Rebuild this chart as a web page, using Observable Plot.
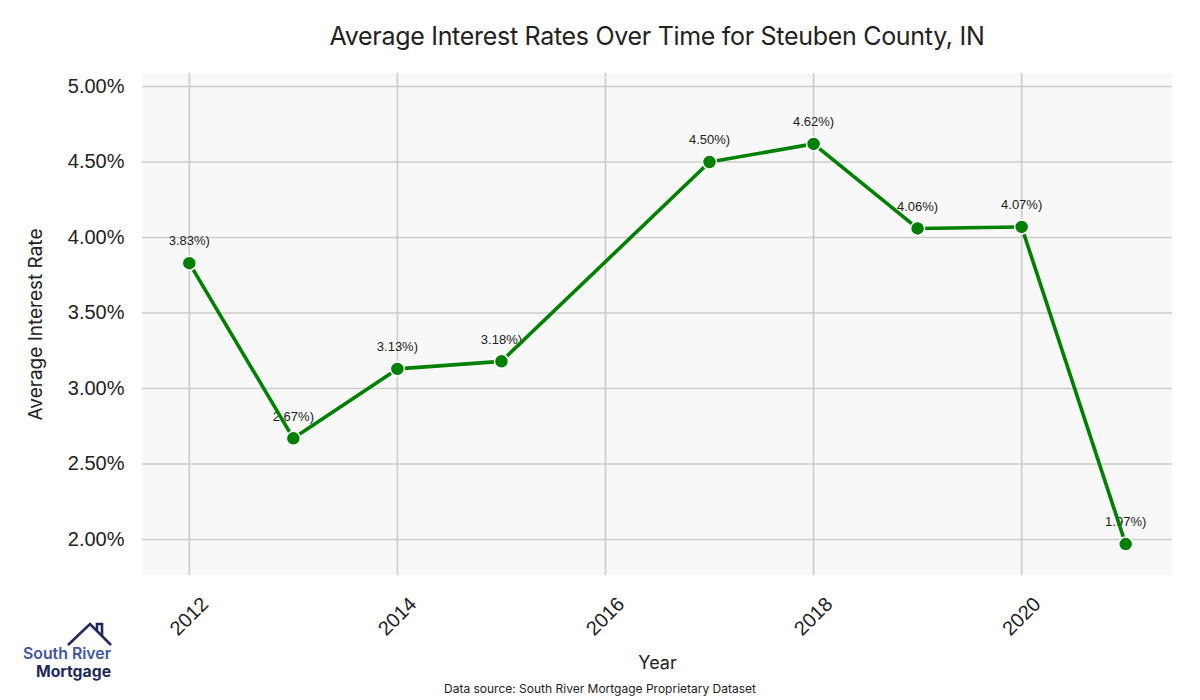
<!DOCTYPE html>
<html>
<head>
<meta charset="utf-8">
<script src="https://cdn.jsdelivr.net/npm/d3@7"></script>
<script src="https://cdn.jsdelivr.net/npm/@observablehq/plot@0.6"></script>
<style>
  body { margin: 0; background: #fff; }
  #wrap { position: relative; width: 1200px; height: 700px; overflow: hidden; }
  #title { position: absolute; left: 142px; width: 1030px; top: 21px; text-align: center;
    font-family: Inter, "Open Sans", sans-serif; font-size: 25px; color: #222; letter-spacing: -0.3px; }
  #caption { position: absolute; left: 0; width: 1200px; top: 681px; text-align: center;
    font-family: Inter, sans-serif; font-size: 12px; color: #222; }
  #logo { position: absolute; left: 0; top: 600px; }
  #chart { position: absolute; left: 0; top: 0; }
</style>
</head>
<body>
<div id="wrap">
  <div id="chart"></div>
  <div id="title">Average Interest Rates Over Time for Steuben County, IN</div>
  <div id="caption">Data source: South River Mortgage Proprietary Dataset</div>
  <svg id="logo" width="130" height="90" viewBox="0 600 130 90">
    <polyline points="68,645 90,624 111,645" fill="none" stroke="#1f2a5c" stroke-width="2.6"/>
    <polyline points="97,631 97,624 102,624 102,636" fill="none" stroke="#1f2a5c" stroke-width="2.6"/>
    <text x="111" y="659" text-anchor="end" font-family="Inter, sans-serif" font-weight="600" font-size="15.5" fill="#3f56a6" textLength="88" lengthAdjust="spacingAndGlyphs">South River</text>
    <text x="111" y="677" text-anchor="end" font-family="Inter, sans-serif" font-weight="700" font-size="15.5" fill="#1d2a5a" textLength="75" lengthAdjust="spacingAndGlyphs">Mortgage</text>
  </svg>
</div>
<script>
const years = [2012, 2013, 2014, 2015, 2017, 2018, 2019, 2020, 2021];
const rates = [3.83, 2.67, 3.13, 3.18, 4.50, 4.62, 4.06, 4.07, 1.97];
const yTicks = [2.0, 2.5, 3.0, 3.5, 4.0, 4.5, 5.0];
const xTicks = [2012, 2014, 2016, 2018, 2020];

const data = years.map((y, i) => ({ year: y, rate: rates[i] }));

const chart = Plot.plot({
  width: 1200,
  height: 700,
  marginLeft: 142,
  marginRight: 28,
  marginTop: 73,
  marginBottom: 125,
  style: { fontFamily: "'Liberation Sans', Arial, sans-serif", background: "transparent" },
  x: { domain: [2011.55, 2021.45], ticks: xTicks, label: null, axis: null },
  y: { domain: [1.762, 5.086], ticks: yTicks, label: null, axis: null },
  marks: [
    Plot.frame({ fill: "#f8f8f8", stroke: null }),
    Plot.gridX(xTicks, { stroke: "#cccccc", strokeOpacity: 1, strokeWidth: 1.6 }),
    Plot.gridY(yTicks, { stroke: "#cccccc", strokeOpacity: 1, strokeWidth: 1.6 }),
    Plot.axisY(yTicks, { tickSize: 0, tickPadding: 18, fontSize: 20, fill: "#222",
      tickFormat: d => d.toFixed(2) + "%", label: null }),
    Plot.text(xTicks, { x: d => d, frameAnchor: "bottom", dy: 41, rotate: -45,
      text: d => String(d), fontSize: 20, fill: "#222", textAnchor: "middle", lineAnchor: "middle" }),
    Plot.text(["Average Interest Rate"], { frameAnchor: "left", dx: -107, rotate: -90,
      text: d => d, fontSize: 19, fill: "#222", fontFamily: "Inter, sans-serif", textAnchor: "middle" }),
    Plot.text(["Year"], { frameAnchor: "bottom", dy: 93, text: d => d, fontSize: 18,
      fill: "#222", fontFamily: "Inter, sans-serif", textAnchor: "middle" }),
    Plot.text(data, { x: "year", y: "rate", text: d => d.rate.toFixed(2) + "%)", dy: -22,
      fontSize: 13, fill: "#222" }),
    Plot.line(data, { x: "year", y: "rate", stroke: "#008000", strokeWidth: 3.6 }),
    Plot.dot(data, { x: "year", y: "rate", r: 7, fill: "#008000", stroke: "#fff", strokeWidth: 1.5 })
  ]
});
document.getElementById("chart").appendChild(chart);
</script>
</body>
</html>
